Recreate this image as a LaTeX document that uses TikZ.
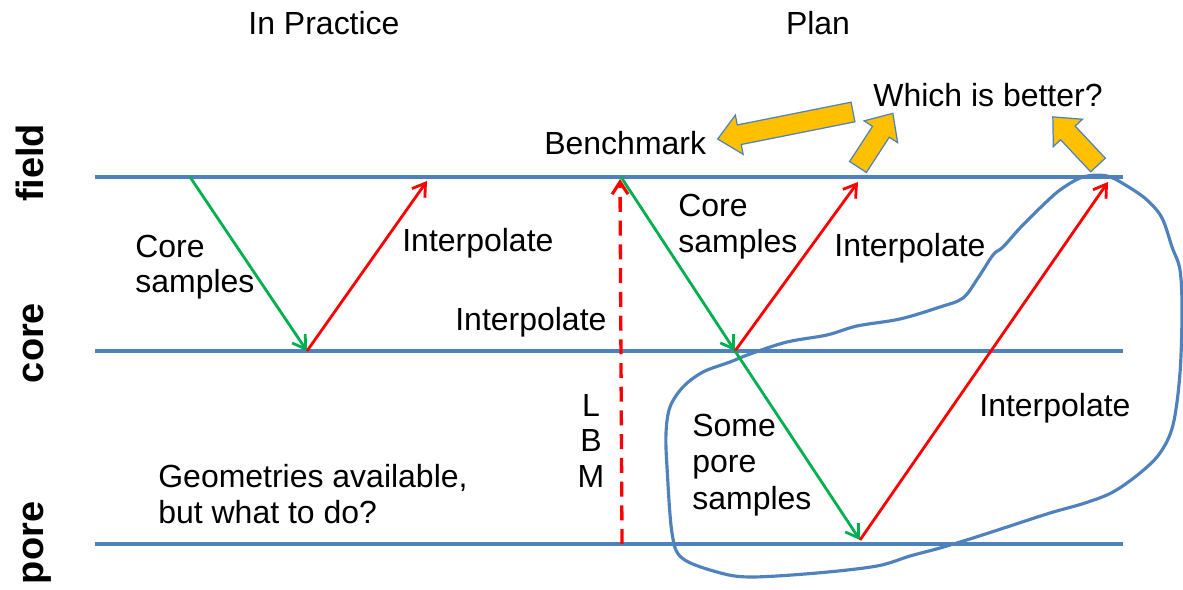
\documentclass[tikz,border=0pt]{standalone}
\usepackage{fontspec}
\setmainfont{Liberation Sans}
\usetikzlibrary{arrows.meta}
\definecolor{lineblue}{RGB}{79,129,189}
\definecolor{pgreen}{RGB}{0,176,80}
\definecolor{pred}{RGB}{255,0,0}
\definecolor{porange}{RGB}{255,192,0}
\tikzset{
  level/.style={draw=lineblue, line width=2pt},
  loopcurve/.style={draw=lineblue, line width=1.8pt},
  garrow/.style={draw=pgreen, line width=1.6pt, -{Straight Barb[length=7pt,width=9pt,line width=1.6pt]}},
  rarrow/.style={draw=pred, line width=1.6pt, -{Straight Barb[length=7pt,width=9pt,line width=1.6pt]}},
  dasharrow/.style={draw=pred, line width=1.9pt, dash pattern=on 8.5pt off 5pt, -{Straight Barb[length=7pt,width=9pt,line width=1.8pt]}},
  txt/.style={font=\fontsize{18.2}{21}\selectfont, inner sep=0pt, anchor=base west},
  ctxt/.style={font=\fontsize{18.2}{21}\selectfont, inner sep=0pt, anchor=base},
  side/.style={font=\bfseries\fontsize{21.6}{26}\selectfont, inner sep=0pt, rotate=90, anchor=base},
  barrow/.style={fill=porange, draw=lineblue, line width=0.7pt, line join=miter}
}
\newcommand\blockarr[3]{%
  \begin{scope}[shift={#1}, rotate=#2]
    \filldraw[barrow] (0,-10) -- ({#3-22},-10) -- ({#3-22},-20) -- (#3,0) -- ({#3-22},20) -- ({#3-22},10) -- (0,10) -- cycle;
  \end{scope}}
\begin{document}
\begin{tikzpicture}[x=0.02cm, y=-0.02cm]
\useasboundingbox (0,0) rectangle (1183,590);
% level lines
\coordinate (fL) at (95,177); \coordinate (fR) at (1123,177);
\coordinate (cL) at (95,351); \coordinate (cR) at (1123,351);
\coordinate (pL) at (95,544); \coordinate (pR) at (1123,544);
\draw[level] (fL) -- (fR);
\draw[level] (cL) -- (cR);
\draw[level] (pL) -- (pR);
% freehand loop
\draw[loopcurve] plot[smooth cycle, tension=0.55] coordinates {
(1083,177) (1107,176) (1127,186) (1147,200) (1162,218) (1172,247) (1180,270) (1182,310) (1180,373) (1173,425) (1160,453) (1140,473) (1113,492) (1085,503) (1050,513) (1007,527) (973,538) (940,548) (910,556) (877,566) (817,573) (750,577) (717,572) (682,558) (672,533) (667,467) (666,433) (670,407) (683,387) (703,372) (730,362) (750,354) (787,342) (827,335) (857,326) (900,319) (940,307) (963,298) (978,278) (993,255) (1003,247) (1020,228) (1040,208) (1060,190)};
% points
\coordinate (a1) at (190,177);
\coordinate (b1) at (307,351);
\coordinate (c1) at (427,181);
\coordinate (d0) at (622,544);
\coordinate (d1) at (620,179);
\coordinate (a2) at (621,177);
\coordinate (b2) at (735,351);
\coordinate (c2) at (858,182);
\coordinate (e2) at (860,540);
\coordinate (g2) at (1108,182);
% arrows
\draw[garrow] (a1) -- (b1);
\draw[rarrow] (b1) -- (c1);
\draw[dasharrow] (d0) -- (d1);
\draw[garrow] (a2) -- (b2);
\draw[rarrow] (b2) -- (c2);
\draw[garrow] (b2) -- (e2);
\draw[rarrow] (e2) -- (g2);
% side labels
\node[side] (lfield) at (43,163) {field};
\node[side] (lcore) at (43,343) {core};
\node[side] (lpore) at (43,543) {pore};
% titles
\node[ctxt] (tprac) at (324,35) {In Practice};
\node[ctxt] (tplan) at (818,35) {Plan};
% texts
\node[txt] (which) at (873,107) {Which is better?};
\node[txt] (bench) at (544,155) {Benchmark};
\node[txt] (cs1a) at (135,258) {Core};
\node[txt] (cs1b) at (135,293) {samples};
\node[txt] (int1) at (402,252) {Interpolate};
\node[txt] (int2) at (455,331) {Interpolate};
\node[txt] (cs2a) at (678,217) {Core};
\node[txt] (cs2b) at (678,253) {samples};
\node[txt] (int3) at (834,257) {Interpolate};
\node[txt] (int4) at (979,417) {Interpolate};
\node[txt] (sp1) at (692,437) {Some};
\node[txt] (sp2) at (692,473) {pore};
\node[txt] (sp3) at (692,510) {samples};
\node[ctxt] (lbmL) at (591,417) {L};
\node[ctxt] (lbmB) at (591,452) {B};
\node[ctxt] (lbmM) at (591,488) {M};
\node[txt] (geo1) at (158,488) {Geometries available,};
\node[txt] (geo2) at (158,524) {but what to do?};
% block arrows
\blockarr{(853,112)}{191.3}{138}
\blockarr{(858,167)}{57}{64}
\blockarr{(1098,165)}{133.2}{66}
\end{tikzpicture}
\end{document}
